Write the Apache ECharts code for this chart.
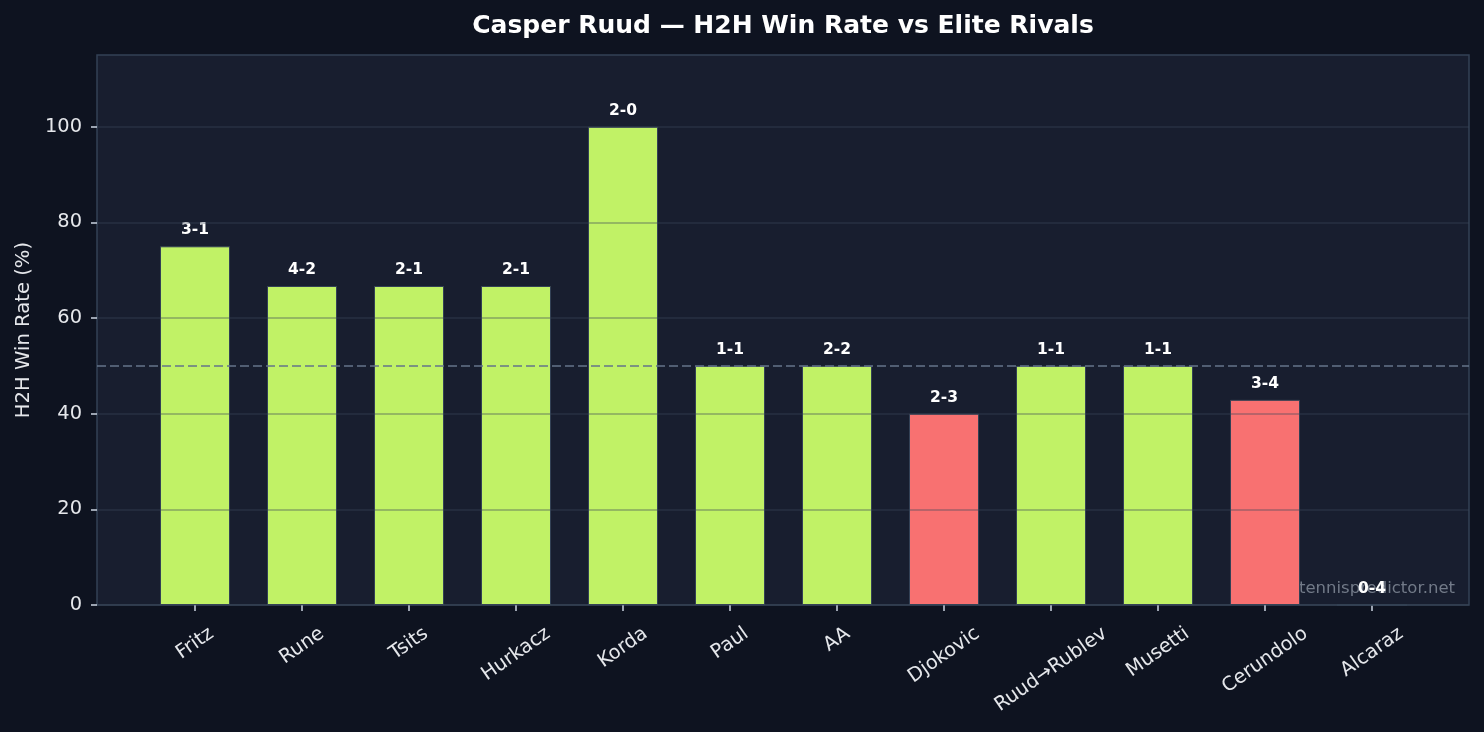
<!DOCTYPE html>
<html>
<head>
<meta charset="utf-8">
<title>Casper Ruud H2H</title>
<script src="https://cdn.jsdelivr.net/npm/echarts@6/dist/echarts.min.js"></script>
<style>
html, body { margin: 0; padding: 0; background: #0e1320; }
#main { width: 1484px; height: 732px; }
</style>
</head>
<body>
<div id="main"></div>
<script>
var players = ['Fritz', 'Rune', 'Tsits', 'Hurkacz', 'Korda', 'Paul', 'AA', 'Djokovic', 'Ruud→Rublev', 'Musetti', 'Cerundolo', 'Alcaraz'];
var winRate = [75, 66.7, 66.7, 66.7, 100, 50, 50, 40, 50, 50, 42.9, 0];
var records = ['3-1', '4-2', '2-1', '2-1', '2-0', '1-1', '2-2', '2-3', '1-1', '1-1', '3-4', '0-4'];
var yTicks = [0, 20, 40, 60, 80, 100];

var FONT = 'DejaVu Sans';
var TICK_SIZE = 19.4;
var ROT = 35 * Math.PI / 180;
var GREEN = '#c1f266';
var RED = '#f87171';

// centre rotated labels under the tick like matplotlib does (top of rotated box on one line)
var ctx = document.createElement('canvas').getContext('2d');
ctx.font = TICK_SIZE + 'px "' + FONT + '"';
var labelRich = {};
players.forEach(function (name, i) {
    var w = ctx.measureText(name).width;
    var h = TICK_SIZE * 1.1;
    var d = (w * Math.sin(ROT) + h * Math.cos(ROT)) / 2;
    labelRich['r' + i] = {
        color: '#e5e7eb',
        fontFamily: FONT,
        fontSize: TICK_SIZE,
        padding: [2 * d * Math.cos(ROT), 2 * d * Math.sin(ROT), 0, 0]
    };
});

var dom = document.getElementById('main');
var myChart = echarts.init(dom);

var option = {
    backgroundColor: '#0e1320',
    animation: false,
    title: {
        text: 'Casper Ruud — H2H Win Rate vs Elite Rivals',
        left: 783,
        top: 14,
        padding: 0,
        textAlign: 'center',
        textStyle: { color: '#ffffff', fontFamily: FONT, fontWeight: 'bold', fontSize: 25 }
    },
    grid: [
        { left: 97, top: 55, width: 1372, height: 550, outerBoundsMode: 'none', containLabel: false, show: true, backgroundColor: '#181e2f', borderColor: '#334155', borderWidth: 1.5 },
        { left: 141.5, top: 55, width: 1284, height: 550, outerBoundsMode: 'none', containLabel: false }
    ],
    xAxis: [
        { gridIndex: 0, type: 'value', min: 0, max: 1, show: false },
        {
            gridIndex: 1,
            type: 'category',
            data: players,
            axisLine: { show: false },
            axisTick: { show: true, alignWithLabel: true, length: 6, lineStyle: { color: '#cbd5e1', width: 1.5 } },
            axisLabel: {
                interval: 0,
                rotate: 35,
                align: 'center',
                verticalAlign: 'middle',
                margin: 18,
                hideOverlap: false,
                color: '#e5e7eb',
                fontFamily: FONT,
                fontSize: TICK_SIZE,
                formatter: function (value, index) {
                    return '{r' + index + '|' + value + '}';
                },
                rich: labelRich
            }
        }
    ],
    yAxis: [
        {
            gridIndex: 0,
            type: 'value',
            min: 0,
            max: 115,
            interval: 20,
            z: 3,
            name: 'H2H Win Rate (%)',
            nameLocation: 'middle',
            nameGap: 63,
            nameTextStyle: { color: '#e5e7eb', fontFamily: FONT, fontSize: 19.6 },
            axisLine: { show: false },
            axisTick: { show: true, length: 6, customValues: yTicks, lineStyle: { color: '#cbd5e1', width: 1.5 } },
            axisLabel: { customValues: yTicks, margin: 15, color: '#e5e7eb', fontFamily: FONT, fontSize: TICK_SIZE },
            splitLine: { show: true, lineStyle: { color: 'rgba(60,72,92,0.45)', width: 1.5 } }
        },
        { gridIndex: 1, type: 'value', min: 0, max: 115, show: false }
    ],
    graphic: [
        {
            type: 'text',
            right: 29,
            top: 580,
            z: 1,
            style: { text: 'tennispredictor.net', fill: '#727a88', font: '16.5px "DejaVu Sans"' }
        }
    ],
    series: [
        {
            type: 'bar',
            xAxisIndex: 1,
            yAxisIndex: 1,
            barWidth: 70,
            data: winRate.map(function (v) {
                return { value: v, itemStyle: { color: v >= 50 ? GREEN : RED } };
            }),
            itemStyle: { borderColor: '#334155', borderWidth: 1 },
            label: {
                show: true,
                position: 'top',
                distance: 8,
                formatter: function (p) { return records[p.dataIndex]; },
                color: '#ffffff',
                fontFamily: FONT,
                fontWeight: 'bold',
                fontSize: 15.5
            }
        },
        {
            type: 'line',
            xAxisIndex: 0,
            yAxisIndex: 0,
            data: [],
            z: 4,
            markLine: {
                silent: true,
                symbol: 'none',
                label: { show: false },
                lineStyle: { type: [9, 4], color: '#64748b', width: 1.6 },
                data: [{ yAxis: 50 }]
            }
        }
    ]
};
myChart.setOption(option);
</script>
</body>
</html>
